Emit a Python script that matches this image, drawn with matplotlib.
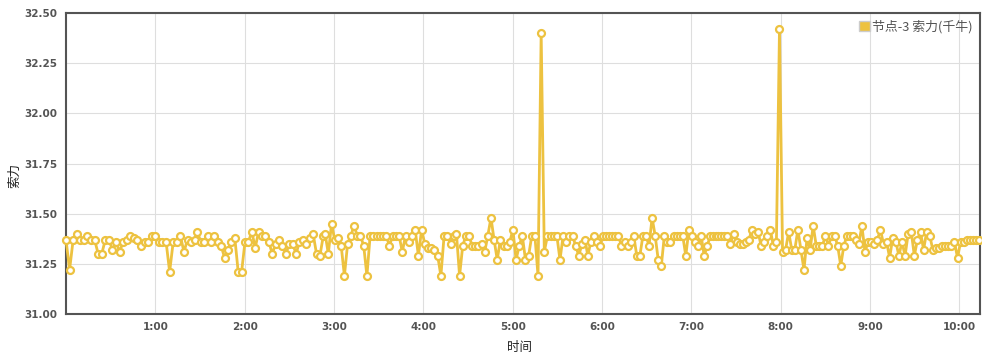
import numpy as np
import matplotlib
matplotlib.use('Agg')
import matplotlib.pyplot as plt
import matplotlib.patches as mpatches

plt.rcParams['font.family'] = ['Noto Sans CJK SC', 'DejaVu Sans']

# ---------------- data (cable force, kN) ----------------
seg1 = [31.37, 31.22, 31.37, 31.40, 31.37, 31.37, 31.39, 31.37, 31.37, 31.30,
        31.30, 31.37, 31.37, 31.32, 31.36, 31.31, 31.36, 31.37, 31.39, 31.38,
        31.37, 31.34, 31.36, 31.36, 31.39, 31.39, 31.36, 31.36, 31.36, 31.21,
        31.36, 31.36, 31.39, 31.31, 31.37, 31.36, 31.37]
seg2 = [31.41, 31.36, 31.36, 31.39, 31.36, 31.39, 31.36, 31.34, 31.28, 31.32,
        31.36, 31.38, 31.21, 31.21, 31.36, 31.36, 31.41, 31.33, 31.41, 31.39,
        31.39, 31.36, 31.30, 31.35, 31.37, 31.34, 31.30, 31.35, 31.35, 31.30,
        31.36, 31.37, 31.35, 31.38, 31.40, 31.30, 31.29, 31.39]
seg3 = [31.40, 31.30, 31.45, 31.37, 31.38, 31.34, 31.19, 31.35, 31.39, 31.44,
        31.39, 31.39, 31.34, 31.19, 31.39, 31.39, 31.39, 31.39, 31.39, 31.39,
        31.34, 31.39, 31.39, 31.39, 31.31, 31.39, 31.36, 31.39, 31.42, 31.29,
        31.42, 31.35, 31.33, 31.33, 31.32, 31.29, 31.19, 31.39, 31.39, 31.35,
        31.39]
seg4 = [31.40, 31.19, 31.34, 31.39, 31.39, 31.34, 31.34, 31.34, 31.35, 31.31,
        31.39, 31.48, 31.37, 31.27, 31.37, 31.34, 31.34, 31.36, 31.42, 31.27,
        31.34, 31.39, 31.27, 31.29, 31.39, 31.39, 31.19, 32.40, 31.31, 31.39,
        31.39, 31.39, 31.39, 31.27, 31.39, 31.36, 31.39, 31.39, 31.34, 31.29,
        31.35, 31.37]
seg5 = [31.29, 31.36, 31.39, 31.36, 31.34, 31.39, 31.39, 31.39, 31.39, 31.39,
        31.39, 31.34, 31.36, 31.34, 31.36, 31.39, 31.29, 31.29, 31.39, 31.39,
        31.34, 31.48, 31.39, 31.27, 31.24, 31.39, 31.36, 31.36, 31.39, 31.39,
        31.39, 31.39, 31.29, 31.42, 31.39, 31.36, 31.34, 31.39, 31.29, 31.34,
        31.39, 31.39, 31.39]
seg6 = [31.39, 31.39, 31.39, 31.39, 31.35, 31.40, 31.36, 31.35, 31.35, 31.36,
        31.37, 31.42, 31.40, 31.41, 31.34, 31.36, 31.39, 31.42, 31.34, 31.36,
        32.42, 31.31, 31.32, 31.41, 31.32, 31.32, 31.42, 31.32, 31.22, 31.38,
        31.32, 31.44, 31.34, 31.34, 31.34, 31.39, 31.34, 31.39, 31.39, 31.34,
        31.24, 31.34, 31.39]
seg7 = [31.39, 31.39, 31.37, 31.35, 31.44, 31.31, 31.36, 31.36, 31.35, 31.37,
        31.42, 31.35, 31.36, 31.28, 31.38, 31.36, 31.29, 31.36, 31.29, 31.40,
        31.41, 31.29, 31.37, 31.41, 31.32, 31.41, 31.39, 31.32, 31.33, 31.33,
        31.34, 31.34, 31.34, 31.34, 31.36, 31.28, 31.36, 31.36, 31.37, 31.37,
        31.37, 31.37, 31.37]

# first / last sample time (hours) of each block
seg_start = [0.0, 1.47, 2.90, 4.37, 5.84, 7.30, 8.77]
seg_end = [1.44, 2.88, 4.34, 5.81, 7.28, 8.74, 10.22]

segments = [seg1, seg2, seg3, seg4, seg5, seg6, seg7]
force = sum(segments, [])
hours = np.concatenate([np.linspace(s, e, len(seg))
                        for s, e, seg in zip(seg_start, seg_end, segments)])
t_end = 10.23

y_ticks = [31.00, 31.25, 31.50, 31.75, 32.00, 32.25, 32.50]
x_ticks = [1, 2, 3, 4, 5, 6, 7, 8, 9, 10]
x_labels = ['%d:00' % h for h in x_ticks]

series_name = '节点-3 索力(千牛)'
line_col = '#edc240'
frame_col = '#545454'

# ---------------- figure ----------------
fig = plt.figure(figsize=(9.82, 3.61), dpi=100)
ax = fig.add_axes([66 / 982, 1 - 314 / 361, (980 - 66) / 982, (314 - 13) / 361])

ax.plot(hours, force, color=line_col, lw=2, marker='o', ms=5, mfc='white',
        mec=line_col, mew=1.6, zorder=3, clip_on=False)

ax.set_xlim(0, t_end)
ax.set_ylim(31.0, 32.5)
ax.set_yticks(y_ticks)
ax.set_yticklabels(['%.2f' % v for v in y_ticks])
ax.set_xticks(x_ticks)
ax.set_xticklabels(x_labels)

ax.grid(True, color='#dedede', lw=0.8)
ax.set_axisbelow(True)
for s in ax.spines.values():
    s.set_color(frame_col)
    s.set_linewidth(1.5)
ax.tick_params(length=0, pad=6)
for lab in ax.get_xticklabels() + ax.get_yticklabels():
    lab.set_family('DejaVu Sans')
    lab.set_fontweight('bold')
    lab.set_fontsize(7.5)
    lab.set_color(frame_col)

fig.text(15 / 982, 1 - 175 / 361, '索力', rotation=90, ha='center', va='center',
         fontsize=9, color='#222222')
fig.text(520 / 982, 1 - 348 / 361, '时间', ha='center', va='center',
         fontsize=9, color='#222222')

handle = mpatches.Rectangle((0, 0), 1, 1, facecolor=line_col, edgecolor='#cccccc', lw=1)
leg = ax.legend([handle], [series_name], loc='upper right', frameon=False,
                fontsize=9.3, handlelength=0.85, handleheight=0.85, handletextpad=0.15,
                borderaxespad=0.15)
for txt in leg.get_texts():
    txt.set_color(frame_col)

fig.savefig('out.png', dpi=100)
